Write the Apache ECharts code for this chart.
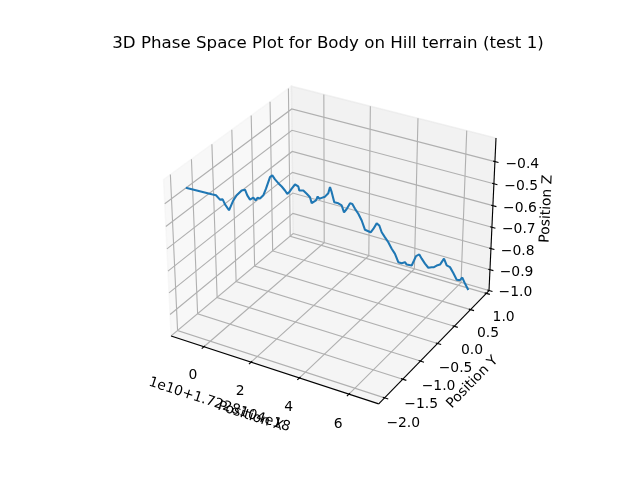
<!DOCTYPE html>
<html><head><meta charset="utf-8">
<script src="https://cdn.jsdelivr.net/npm/echarts@6/dist/echarts.min.js"></script>
<style>html,body{margin:0;padding:0;background:#fff}#c{width:640px;height:480px}</style>
</head><body><div id="c"></div>
<script>
// ---- texts ----
const titleText = '3D Phase Space Plot for Body on Hill terrain (test 1)';
const xLabel = 'Position X';
const yLabel = 'Position Y';
const zLabel = 'Position Z';
const xOffsetText = '1e10+1.7228104e18';

// ---- axis limits and ticks ----
const xLim = [-1.4196, 7.1784];
const yLim = [-2.1585, 1.0844];
const zLim = [-1.001, -0.295];
const xTicks = [0, 2, 4, 6];
const xTickLabels = ['0', '2', '4', '6'];
const yTicks = [-2.0, -1.5, -1.0, -0.5, 0.0, 0.5, 1.0];
const yTickLabels = ['\u22122.0', '\u22121.5', '\u22121.0', '\u22120.5', '0.0', '0.5', '1.0'];
const zTicks = [-1.0, -0.9, -0.8, -0.7, -0.6, -0.5, -0.4];
const zTickLabels = ['\u22121.0', '\u22120.9', '\u22120.8', '\u22120.7', '\u22120.6', '\u22120.5', '\u22120.4'];

// ---- series values (x in units of 1e10 after offset) ----
const posX = [-1.030,-0.355,-0.242,-0.141,-0.068,-0.011,0.091,0.213,0.308,0.444,0.532,0.590,0.659,0.749,0.811,0.866,0.927,1.018,1.093,1.206,1.268,1.338,1.425,1.515,1.602,1.662,1.717,1.782,1.873,1.961,1.987,2.095,2.186,2.274,2.319,2.363,2.436,2.483,2.526,2.592,2.681,2.771,2.817,2.864,2.934,3.044,3.137,3.200,3.274,3.364,3.427,3.502,3.593,3.688,3.782,3.874,3.941,4.012,4.104,4.177,4.246,4.340,4.435,4.533,4.628,4.725,4.821,4.914,4.963,5.105,5.167,5.221,5.313,5.384,5.481,5.578,5.674,5.740,5.816,5.909,6.017,6.100,6.196,6.297,6.401,6.496,6.560,6.644,6.747];
const posY = [-1.870,-1.643,-1.605,-1.571,-1.547,-1.527,-1.493,-1.452,-1.420,-1.375,-1.345,-1.326,-1.302,-1.272,-1.251,-1.233,-1.212,-1.182,-1.156,-1.119,-1.098,-1.074,-1.045,-1.015,-0.986,-0.965,-0.947,-0.925,-0.895,-0.865,-0.856,-0.820,-0.789,-0.760,-0.744,-0.730,-0.705,-0.689,-0.675,-0.653,-0.623,-0.593,-0.577,-0.562,-0.538,-0.501,-0.470,-0.448,-0.424,-0.393,-0.372,-0.347,-0.316,-0.284,-0.253,-0.222,-0.200,-0.176,-0.145,-0.120,-0.097,-0.065,-0.034,-0.001,0.031,0.064,0.096,0.128,0.144,0.192,0.213,0.231,0.262,0.286,0.318,0.351,0.383,0.405,0.431,0.462,0.498,0.526,0.558,0.592,0.627,0.659,0.681,0.709,0.744];
const posZ = [-0.358,-0.398,-0.404,-0.425,-0.425,-0.448,-0.476,-0.434,-0.413,-0.394,-0.392,-0.418,-0.438,-0.431,-0.444,-0.433,-0.438,-0.425,-0.397,-0.348,-0.341,-0.360,-0.378,-0.394,-0.413,-0.429,-0.422,-0.408,-0.391,-0.401,-0.419,-0.421,-0.437,-0.454,-0.481,-0.488,-0.471,-0.454,-0.465,-0.462,-0.458,-0.444,-0.418,-0.441,-0.487,-0.494,-0.505,-0.537,-0.523,-0.499,-0.503,-0.526,-0.550,-0.582,-0.626,-0.634,-0.640,-0.626,-0.602,-0.613,-0.645,-0.670,-0.694,-0.726,-0.751,-0.792,-0.798,-0.795,-0.807,-0.814,-0.792,-0.772,-0.766,-0.787,-0.812,-0.833,-0.832,-0.833,-0.827,-0.824,-0.798,-0.831,-0.841,-0.871,-0.904,-0.908,-0.897,-0.927,-0.960];

// ---- 3D view (elev 30, azim -60, box aspect 4:4:3, perspective) ----
const elev = 30, azim = -60, dist = 10;
const kA = 1.8294640721620434 * 25 / 24 / Math.hypot(4, 4, 3);
const A = [4 * kA, 4 * kA, 3 * kA];
const Rc = A.map(a => a / 2);
const er = elev * Math.PI / 180, ar = azim * Math.PI / 180;
const W = [Math.cos(er) * Math.cos(ar), Math.cos(er) * Math.sin(ar), Math.sin(er)];
let U = [-W[1], W[0], 0];
const un = Math.hypot(U[0], U[1]);
U = U.map(c => c / un);
const V = [W[1]*U[2]-W[2]*U[1], W[2]*U[0]-W[0]*U[2], W[0]*U[1]-W[1]*U[0]];
const mins = [xLim[0], yLim[0], zLim[0]];
const maxs = [xLim[1], yLim[1], zLim[1]];
const span = [0, 1, 2].map(i => maxs[i] - mins[i]);
const centers = [0, 1, 2].map(i => (mins[i] + maxs[i]) / 2);
function proj(p) {
  const d = [0, 1, 2].map(i => (p[i] - mins[i]) / span[i] * A[i] - Rc[i]);
  const den = dist - (W[0]*d[0] + W[1]*d[1] + W[2]*d[2]);
  return [(U[0]*d[0] + U[1]*d[1] + U[2]*d[2]) / den, (V[0]*d[0] + V[1]*d[1] + V[2]*d[2]) / den];
}
const dpp = 48 / (2 * 72 * 369.6 / 100);
const tickLabelFrac = (3.5 + 8) * dpp / 12;
const axisLabelFrac = 23.15 * dpp / 12;
function moveOut(p, frac, skip) {
  return p.map((c, i) => i === skip ? c : c + Math.sign(c - centers[i]) * frac * span[i]);
}
const [x0, y0, z0] = mins, [x1, y1, z1] = maxs;
const dl = span.map(s => s / 12);

const panes = [
  {pts: [[x0,y0,z0],[x0,y1,z0],[x0,y1,z1],[x0,y0,z1]], color: 'rgba(242,242,242,0.5)'},
  {pts: [[x0,y1,z0],[x1,y1,z0],[x1,y1,z1],[x0,y1,z1]], color: 'rgba(230,230,230,0.5)'},
  {pts: [[x0,y0,z0],[x1,y0,z0],[x1,y1,z0],[x0,y1,z0]], color: 'rgba(236,236,236,0.5)'}
];
const gridLines = [];
xTicks.forEach(t => gridLines.push([[t,y0,z0],[t,y1,z0],[t,y1,z1]]));
yTicks.forEach(t => gridLines.push([[x0,t,z1],[x0,t,z0],[x1,t,z0]]));
zTicks.forEach(t => gridLines.push([[x1,y1,t],[x0,y1,t],[x0,y0,t]]));
const axisLines = [[[x0,y0,z0],[x1,y0,z0]], [[x1,y0,z0],[x1,y1,z0]], [[x1,y1,z0],[x1,y1,z1]]];
const tickMarks = [];
xTicks.forEach(t => tickMarks.push([[t, y0 + 0.1*dl[1], z0], [t, y0 - 0.2*dl[1], z0]]));
yTicks.forEach(t => tickMarks.push([[x1 - 0.1*dl[0], t, z0], [x1 + 0.2*dl[0], t, z0]]));
zTicks.forEach(t => tickMarks.push([[x1 - 0.1*dl[0], y1, t], [x1 + 0.2*dl[0], y1, t]]));
const tickTexts = [];
xTicks.forEach((t, i) => tickTexts.push({p: moveOut([t, y0, z0], tickLabelFrac, 0), s: xTickLabels[i]}));
yTicks.forEach((t, i) => tickTexts.push({p: moveOut([x1, t, z0], tickLabelFrac, 1), s: yTickLabels[i]}));
zTicks.forEach((t, i) => tickTexts.push({p: moveOut([x1, y1, t], tickLabelFrac, 2), s: zTickLabels[i]}));

const FONT = '"DejaVu Sans", sans-serif';
const LW = 0.8 * 100 / 72;

function normAngle(a) { a = ((a + 180) % 180 + 180) % 180; if (a > 90) a -= 180; return a; }

function renderPanes(params, api) {
  const pn = panes[params.dataIndex];
  return {type: 'polygon', shape: {points: pn.pts.map(p => api.coord(proj(p)))},
          style: {fill: pn.color, stroke: pn.color, lineWidth: 1.39}, silent: true};
}

function renderDecor(params, api) {
  const c = p => api.coord(proj(p));
  const ch = [];
  gridLines.forEach(g => ch.push({type: 'polyline', shape: {points: g.map(c)},
    style: {stroke: '#b0b0b0', lineWidth: LW, fill: null}}));
  axisLines.forEach(g => ch.push({type: 'polyline', shape: {points: g.map(c)},
    style: {stroke: '#000', lineWidth: LW, fill: null}}));
  tickMarks.forEach(g => ch.push({type: 'polyline', shape: {points: g.map(c)},
    style: {stroke: '#000', lineWidth: LW, fill: null}}));
  tickTexts.forEach(t => {
    const q = c(t.p);
    ch.push({type: 'text', x: q[0], y: q[1] + 6,
      style: {text: t.s, fill: '#000', fontSize: 13.9, fontFamily: FONT, align: 'center', verticalAlign: 'middle'}});
  });
  const labels = [
    {p: moveOut([(x0+x1)/2, y0, z0], axisLabelFrac, 0), e: axisLines[0], s: xLabel, al: 'center'},
    {p: moveOut([x1, (y0+y1)/2, z0], axisLabelFrac, 1), e: axisLines[1], s: yLabel, al: 'center'},
    {p: moveOut([x1, y1, (z0+z1)/2], axisLabelFrac, 2), e: axisLines[2], s: zLabel, al: 'center'},
    {p: moveOut([x0, y0, z0], axisLabelFrac, 0), e: axisLines[0], s: xOffsetText, al: 'left'}
  ];
  labels.forEach(l => {
    const q = c(l.p), a = c(l.e[0]), b = c(l.e[1]);
    const ang = normAngle(Math.atan2(-(b[1] - a[1]), b[0] - a[0]) * 180 / Math.PI);
    ch.push({type: 'text', x: q[0], y: q[1], rotation: ang * Math.PI / 180,
      style: {text: l.s, fill: '#000', fontSize: 13.9, fontFamily: FONT, align: l.al, verticalAlign: 'middle'}});
  });
  ch.push({type: 'text', x: 328, y: 44,
    style: {text: titleText, fill: '#000', fontSize: 16.67, fontFamily: FONT, align: 'center', verticalAlign: 'middle'}});
  return {type: 'group', children: ch, silent: true};
}

const chart = echarts.init(document.getElementById('c'), null, {renderer: 'canvas'});
chart.setOption({
  animation: false,
  backgroundColor: '#ffffff',
  grid: {left: 143.2, top: 57.6, width: 369.6, height: 369.6, show: false},
  xAxis: {type: 'value', min: -0.095, max: 0.09, show: false},
  yAxis: {type: 'value', min: -0.095, max: 0.09, show: false},
  series: [
    {type: 'custom', renderItem: renderPanes, data: panes.map((p, i) => [i]), clip: false, z: 1, silent: true},
    {type: 'custom', renderItem: renderDecor, data: [[0]], clip: false, z: 2, silent: true},
    {type: 'line', data: posX.map((x, i) => proj([x, posY[i], posZ[i]])), showSymbol: false, symbol: 'none',
     lineStyle: {color: '#1f77b4', width: 1.5 * 100 / 72}, z: 3, clip: false, silent: true}
  ]
});
</script></body></html>
